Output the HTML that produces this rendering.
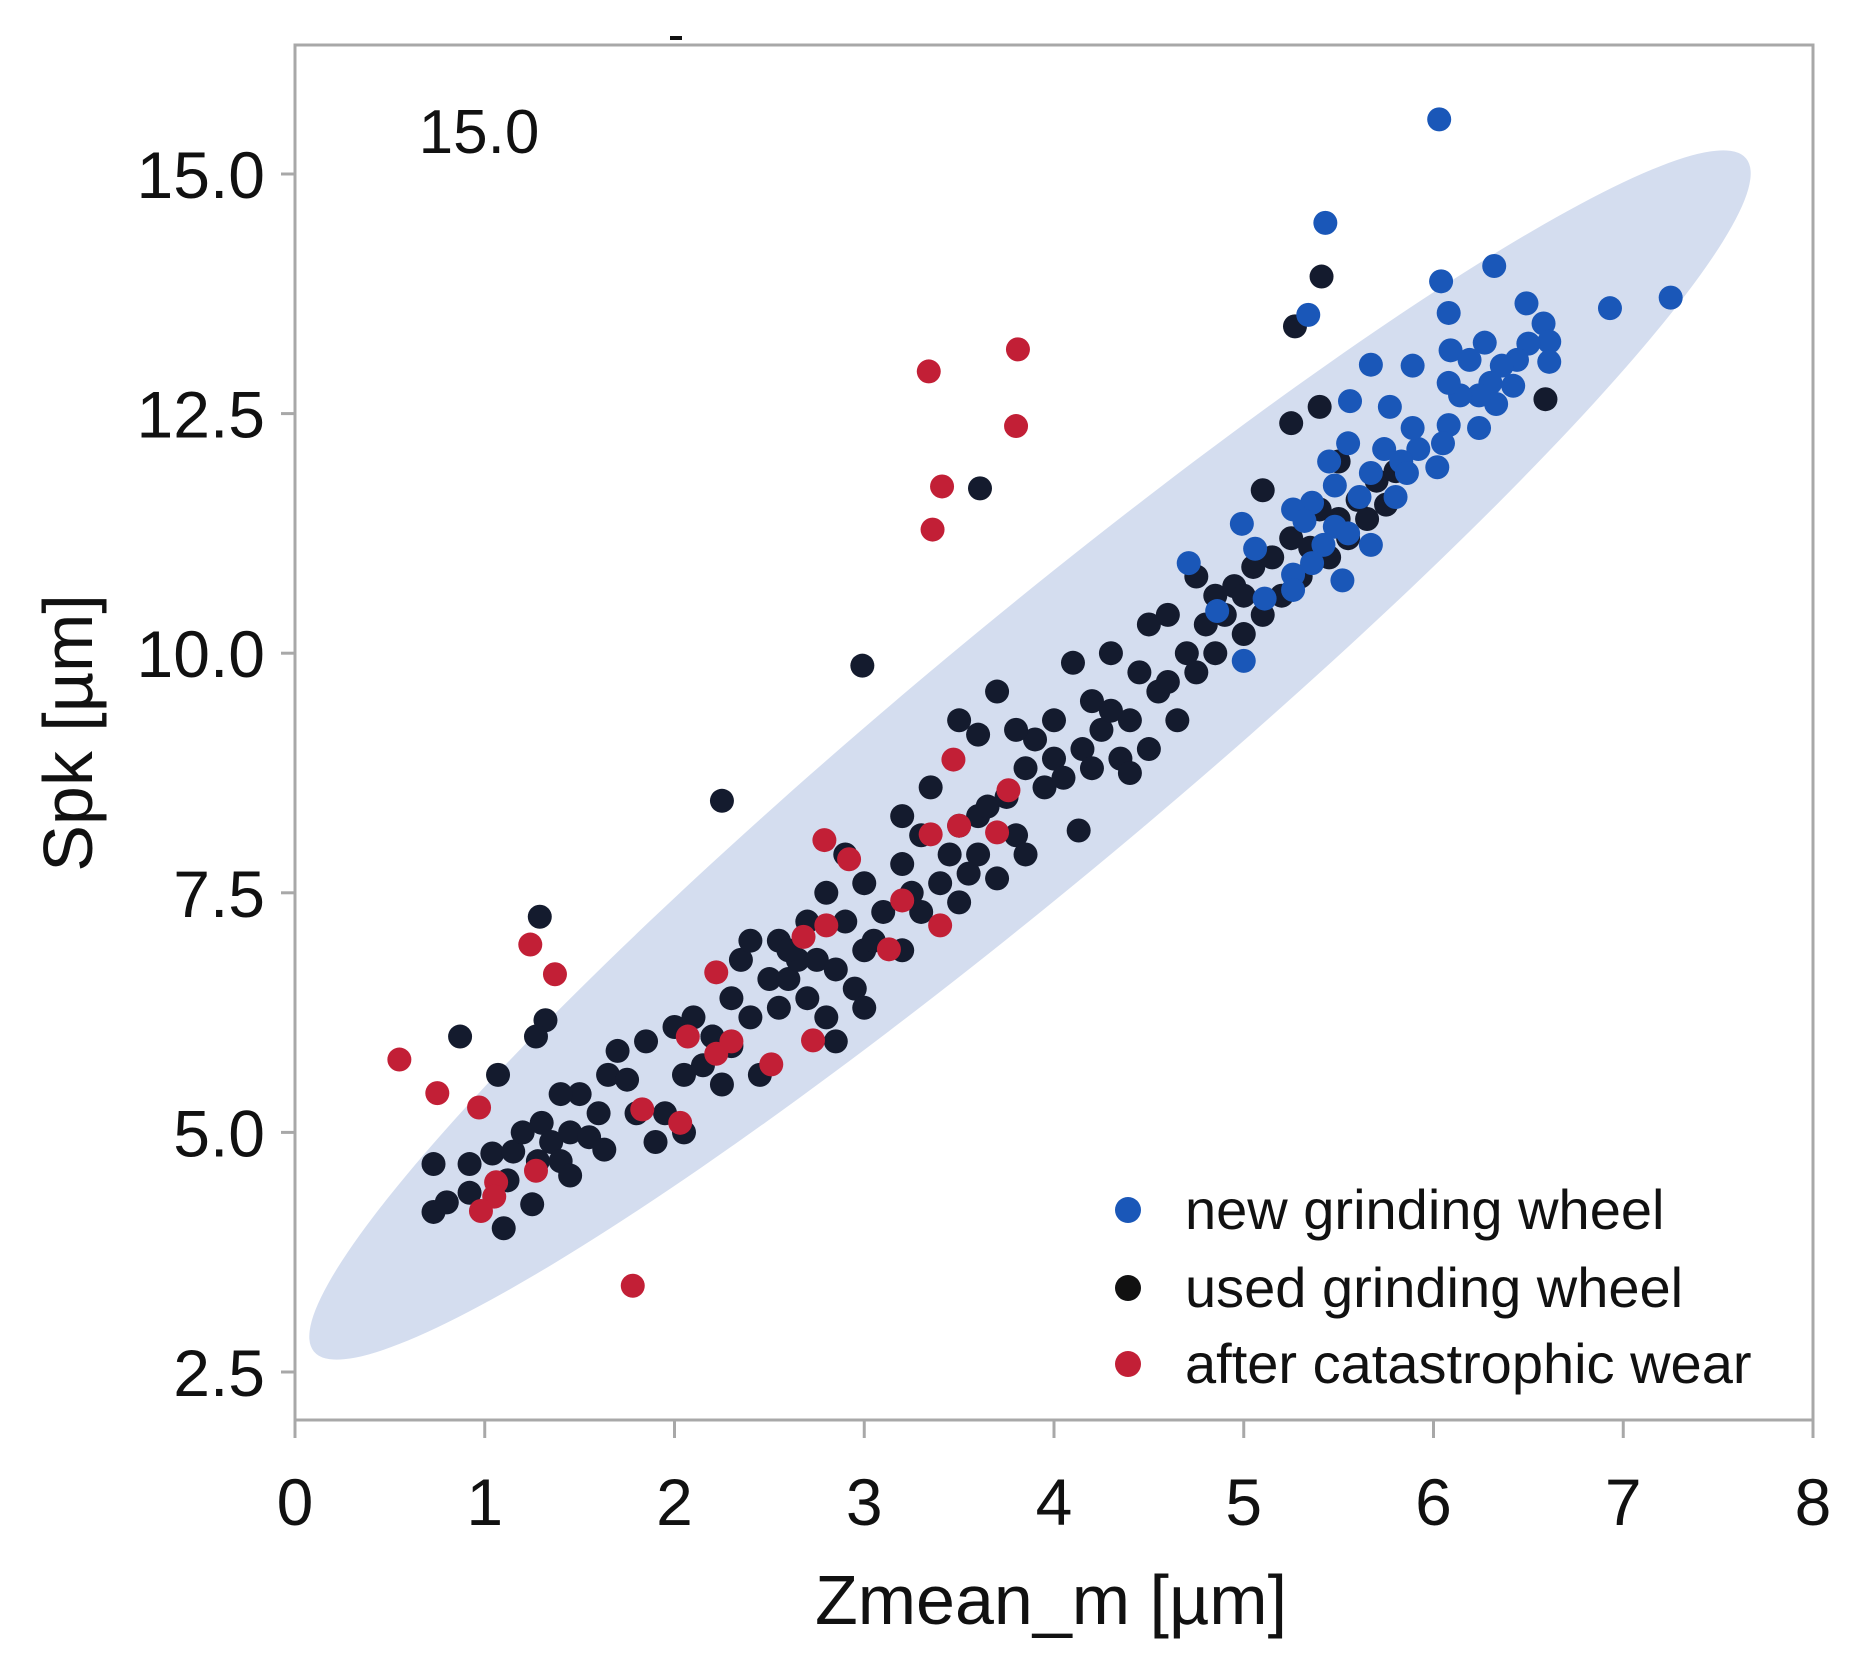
<!DOCTYPE html>
<html><head><meta charset="utf-8"><style>
html,body{margin:0;padding:0;background:#fff}
svg{display:block}
text{font-family:"Liberation Sans",sans-serif;fill:#111}
</style></head><body>
<svg id="chart" width="1868" height="1664" viewBox="0 0 1868 1664">
<g id="ellipse-layer"></g>
<g id="points-layer"></g>
<g id="axes-layer"></g>
</svg>
<script>
const xTicks=[0,1,2,3,4,5,6,7,8];
const yTicks=[2.5,5.0,7.5,10.0,12.5,15.0];
const blueX=[6.03,5.43,5.34,6.04,6.32,6.49,6.08,6.93,7.25,6.09,6.27,6.58,6.61,6.61,6.50,6.44,6.36,6.19,6.30,6.42,6.33,6.24,6.14,6.08,5.67,5.89,5.77,5.56,6.24,6.08,6.05,5.92,5.89,6.02,5.83,5.74,5.67,5.55,5.45,5.48,5.61,5.36,5.26,5.32,5.48,5.42,5.67,5.55,4.99,5.06,5.26,5.36,5.52,5.11,5.26,5.00,4.86,4.71,5.80,5.86];
const blueY=[15.57,14.49,13.53,13.88,14.04,13.65,13.55,13.60,13.71,13.16,13.24,13.44,13.25,13.04,13.23,13.06,13.00,13.06,12.82,12.79,12.60,12.69,12.69,12.82,13.01,13.00,12.57,12.63,12.35,12.38,12.19,12.13,12.35,11.94,12.00,12.13,11.88,12.19,12.00,11.75,11.63,11.57,11.50,11.38,11.32,11.13,11.13,11.25,11.35,11.09,10.82,10.94,10.76,10.57,10.66,9.92,10.44,10.94,11.63,11.88];
const usedX=[5.41,5.27,6.59,5.25,5.40,3.61,2.99,2.25,1.29,0.87,1.07,1.32,1.27,4.13,0.73,0.8,0.73,0.92,0.92,1.04,1.1,1.12,1.15,1.2,1.25,1.28,1.3,1.35,1.4,1.45,1.45,1.5,1.55,1.6,1.65,1.63,1.7,1.75,1.8,1.85,1.9,1.95,2.0,2.05,2.05,2.1,2.15,2.2,2.25,2.3,2.3,2.35,2.4,2.4,2.45,2.5,2.55,2.55,2.6,2.65,2.7,2.7,2.75,2.8,2.8,2.85,2.9,2.95,3.0,3.0,3.05,3.1,3.2,3.2,3.25,3.3,3.3,3.35,3.4,3.45,3.5,3.5,3.55,3.6,3.6,3.65,3.7,3.7,3.75,3.8,3.85,3.85,3.9,3.95,4.0,4.0,4.05,4.1,4.15,4.2,4.2,4.25,4.3,4.3,4.35,4.4,4.45,4.5,4.5,4.55,4.6,4.6,4.65,4.7,4.75,4.75,4.8,4.85,4.85,4.9,4.95,5.0,5.0,5.05,5.1,5.1,5.15,5.2,5.25,5.3,5.35,5.4,5.45,5.5,5.5,5.55,5.6,5.65,5.7,5.75,5.8,3.5,3.6,3.2,2.9,2.2,2.85,3.0,1.4,2.6,4.4,3.8];
const usedY=[13.93,13.41,12.65,12.40,12.57,11.72,9.87,8.46,7.25,6.00,5.60,6.17,6.00,8.15,4.17,4.27,4.67,4.37,4.67,4.78,4.0,4.5,4.8,5.0,4.25,4.7,5.1,4.9,4.7,5.0,4.55,5.4,4.95,5.2,5.6,4.82,5.85,5.55,5.2,5.95,4.9,5.2,6.1,5.0,5.6,6.2,5.7,6.0,5.5,6.4,5.9,6.8,7.0,6.2,5.6,6.6,7.0,6.3,6.6,6.8,6.4,7.2,6.8,7.5,6.2,6.7,7.2,6.5,7.6,6.9,7.0,7.3,7.8,6.9,7.5,8.1,7.3,8.6,7.6,7.9,7.4,8.2,7.7,8.3,7.9,8.4,9.6,7.65,8.5,8.1,8.8,7.9,9.1,8.6,9.3,8.9,8.7,9.9,9.0,9.5,8.8,9.2,10.0,9.4,8.9,9.3,9.8,10.3,9.0,9.6,10.4,9.7,9.3,10.0,10.8,9.8,10.3,10.6,10.0,10.4,10.7,10.2,10.6,10.9,10.4,11.7,11.0,10.6,11.2,10.8,11.1,11.5,11.0,11.4,12.0,11.2,11.6,11.4,11.8,11.55,11.9,9.3,9.15,8.3,7.9,6.0,5.95,6.3,5.4,6.9,8.75,9.2];
const wearX=[0.55,0.75,0.97,1.24,1.37,1.06,1.05,0.98,1.27,1.78,1.83,2.03,2.07,2.22,2.22,2.30,2.51,2.73,2.68,2.79,2.80,2.92,3.13,3.20,3.34,3.41,3.36,3.81,3.80,3.40,3.35,3.47,3.50,3.70,3.76];
const wearY=[5.76,5.41,5.26,6.96,6.65,4.48,4.33,4.18,4.6,3.40,5.24,5.10,6.0,6.67,5.82,5.95,5.71,5.96,7.04,8.05,7.16,7.85,6.91,7.42,12.94,11.74,11.29,13.17,12.37,7.16,8.11,8.89,8.2,8.13,8.57];

const L=295,R=1813,T=45,B=1420;
const sx=v=>L+(v-0)/8*(R-L);
const sy=v=>1372-(v-2.5)/12.5*(1372-174);
const NS='http://www.w3.org/2000/svg';
function mk(tag,attrs,parent){const e=document.createElementNS(NS,tag);for(const k in attrs)e.setAttribute(k,attrs[k]);parent.appendChild(e);return e;}

const eg=document.getElementById('ellipse-layer');
const el=mk('ellipse',{cx:1030,cy:755,rx:932,ry:128,transform:'rotate(-39.8 1030 755)',fill:'#d4ddef'},eg);



const pg=document.getElementById('points-layer');
function series(xs,ys,color,name){
  const g=mk('g',{},pg);
  
  
  for(let i=0;i<xs.length;i++){
    const c=mk('circle',{cx:sx(xs[i]),cy:sy(ys[i]),r:12,fill:color},g);
    
    
  }
}
series(usedX,usedY,'#141b2e','used-wheel-series');
series(wearX,wearY,'#c21f36','wear-series');
series(blueX,blueY,'#1a57b8','new-wheel-series');

const ag=document.getElementById('axes-layer');
const frame=mk('rect',{x:L,y:T,width:R-L,height:B-T,fill:'none',stroke:'#a8a8a8','stroke-width':3},ag);


xTicks.forEach(v=>{
  const x=sx(v);
  const t=mk('line',{x1:x,x2:x,y1:B,y2:B+18,stroke:'#a8a8a8','stroke-width':3},ag);
  
  
  const lb=mk('text',{x:x,y:1525,'text-anchor':'middle','font-size':66},ag);
  lb.textContent=v;
  
  
});
yTicks.forEach(v=>{
  const y=sy(v);
  const t=mk('line',{x1:L-14,x2:L,y1:y,y2:y,stroke:'#a8a8a8','stroke-width':3},ag);
  
  
  const lb=mk('text',{x:265,y:y+24,'text-anchor':'end','font-size':66},ag);
  lb.textContent=v.toFixed(1);
  
  
});
const xt=mk('text',{x:1051,y:1624,'text-anchor':'middle','font-size':70},ag);
xt.textContent='Zmean_m [µm]';


const yt=mk('text',{x:0,y:0,'text-anchor':'middle','font-size':70,transform:'translate(92 733) rotate(-90)'},ag);
yt.textContent='Spk [µm]';


const st=mk('text',{x:479,y:153,'text-anchor':'middle','font-size':62},ag);
st.textContent='15.0';


const dash=mk('line',{x1:670,x2:682,y1:38,y2:38,stroke:'#111','stroke-width':4},ag);



const legend=[['new grinding wheel','#1a57b8',1210],['used grinding wheel','#111111',1288],['after catastrophic wear','#c21f36',1364]];
const lg=mk('g',{},ag);


legend.forEach(([label,color,y])=>{
  const g=mk('g',{},lg);
  
  
  mk('circle',{cx:1128,cy:y,r:13,fill:color},g);
  const tx=mk('text',{x:1185,y:y+19,'font-size':56},g);
  tx.textContent=label;
});
</script>
</body></html>
